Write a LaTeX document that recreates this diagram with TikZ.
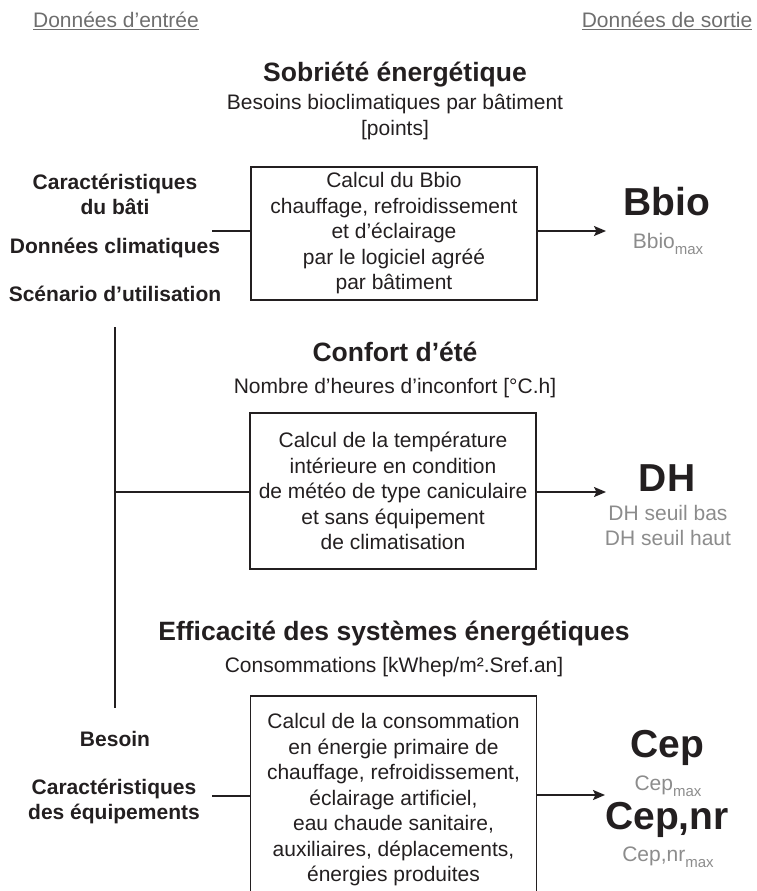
\documentclass[tikz,border=0pt]{standalone}
\usepackage{fontspec}
\setmainfont{Liberation Sans}
\usetikzlibrary{arrows.meta}
\definecolor{ink}{HTML}{231F20}
\definecolor{soft}{HTML}{8C8C8C}
\definecolor{head}{HTML}{6E6E6E}
\newcommand{\maxsub}{\raisebox{-6pt}{\fontsize{15}{15}\selectfont max}}
\begin{document}
\begin{tikzpicture}[x=1pt,y=-1pt,
  every node/.style={inner sep=0pt, outer sep=0pt, text=ink, align=center, font=\fontsize{21}{25.5}\selectfont},
  headlbl/.style={text=head, font=\fontsize{21}{25}\selectfont},
  inlbl/.style={font=\fontsize{21}{25}\selectfont\bfseries},
  ttl/.style={font=\fontsize{26.5}{30}\selectfont\bfseries},
  calcbox/.style={draw=ink, line width=1.4pt, minimum width=286pt},
  bigout/.style={font=\fontsize{39}{40}\selectfont\bfseries},
  subout/.style={text=soft, font=\fontsize{21}{25}\selectfont, anchor=base},
  wire/.style={draw=ink, line width=2pt},
  arr/.style={wire, -{Stealth[length=12pt,width=10pt,inset=2.5pt]}}
]
\useasboundingbox (0,0) rectangle (756,891);
\clip (0,0) rectangle (756,891);

% headers
\node[headlbl] (hin) at (116,21) {\underline{Données d’entrée}};
\node[headlbl] (hout) at (667,21) {\underline{Données de sortie}};

% section 1
\node[ttl] (t1) at (395,75) {Sobriété énergétique};
\node (s1) at (395,117) {Besoins bioclimatiques par bâtiment\\{}[points]};
\node[calcbox, minimum height=133pt] (b1) at (394,233.5) {Calcul du Bbio\\chauffage, refroidissement\\et d’éclairage\\par le logiciel agréé\\par bâtiment};
\node[inlbl] (l1) at (115,194) {Caractéristiques\\du bâti};
\node[inlbl] (l2) at (115,248) {Données climatiques};
\node[inlbl] (l3) at (115,294) {Scénario d’utilisation};
\coordinate (in1) at (212,231);
\coordinate (out1) at (606,231);
\draw[wire] (in1) -- (in1 -| b1.west);
\draw[arr] (b1.east |- out1) -- (out1);
\node[bigout] (o1) at (667,202) {Bbio};
\node[subout] (o1m) at (668,248) {Bbio\maxsub};

% section 2
\node[ttl] (t2) at (395,352) {Confort d’été};
\node (s2) at (395,388) {Nombre d’heures d’inconfort [°C.h]};
\node[calcbox, minimum height=156pt] (b2) at (393,491) {Calcul de la température\\intérieure en condition\\de météo de type caniculaire\\et sans équipement\\de climatisation};
\coordinate (vtop) at (115,327);
\coordinate (vbot) at (115,708);
\coordinate (vmid) at (115,492);
\coordinate (out2) at (606,492);
\draw[wire] (vtop) -- (vbot);
\draw[wire] (vmid) -- (vmid -| b2.west);
\draw[arr] (b2.east |- out2) -- (out2);
\node[bigout] (o2) at (667,478) {DH};
\node[subout, anchor=center] (o2m) at (668,525.5) {DH seuil bas\\DH seuil haut};

% section 3
\node[ttl] (t3) at (394,634) {Efficacité des systèmes énergétiques};
\node (s3) at (394,667) {Consommations [kWhep/m².Sref.an]};
\node[calcbox, minimum height=208pt] (b3) at (393.5,800) {Calcul de la consommation\\en énergie primaire de\\chauffage, refroidissement,\\éclairage artificiel,\\eau chaude sanitaire,\\auxiliaires, déplacements,\\énergies produites};
\node[inlbl] (l4) at (115,739) {Besoin};
\node[inlbl] (l5) at (114,801) {Caractéristiques\\des équipements};
\coordinate (in3) at (212,796);
\coordinate (out3) at (605,795);
\draw[wire] (in3) -- (in3 -| b3.west);
\draw[arr] (b3.east |- out3) -- (out3);
\node[bigout] (o3) at (667,748) {Cep};
\node[subout] (o3m) at (668,790) {Cep\maxsub};
\node[bigout] (o4) at (667,820) {Cep,nr};
\node[subout] (o4m) at (668,861) {Cep,nr\maxsub};
\end{tikzpicture}
\end{document}
